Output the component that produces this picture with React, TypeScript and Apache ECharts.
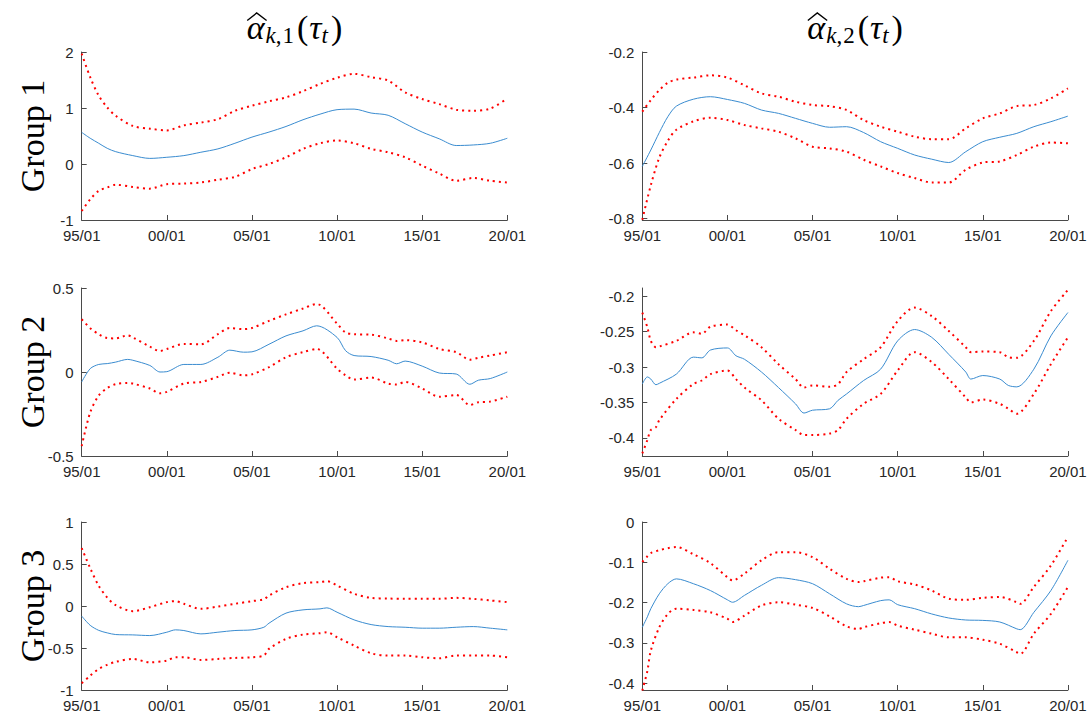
import React, { useEffect, useRef } from "react";
import * as echarts from "echarts";

// ---------- data ----------
const p1Years = [1995, 1995.5, 1996, 1996.5, 1997, 1998, 1999, 2000, 2001, 2002, 2003, 2004, 2005, 2006, 2007, 2008, 2009, 2010, 2011, 2012, 2013, 2014, 2015, 2016, 2017, 2018, 2019, 2020];
const p1Mid = [0.565, 0.46, 0.37, 0.28, 0.22, 0.15, 0.1, 0.12, 0.15, 0.21, 0.27, 0.37, 0.48, 0.57, 0.67, 0.79, 0.89, 0.97, 0.98, 0.91, 0.87, 0.72, 0.57, 0.45, 0.33, 0.34, 0.37, 0.46];
const p1Upper = [1.97, 1.55, 1.22, 1.01, 0.86, 0.68, 0.63, 0.6, 0.69, 0.74, 0.8, 0.95, 1.04, 1.12, 1.19, 1.3, 1.43, 1.54, 1.61, 1.55, 1.49, 1.28, 1.16, 1.07, 0.97, 0.95, 0.99, 1.17];
const p1Lower = [-0.84, -0.63, -0.48, -0.42, -0.37, -0.41, -0.44, -0.36, -0.35, -0.33, -0.28, -0.23, -0.09, 0.0, 0.12, 0.27, 0.37, 0.42, 0.37, 0.27, 0.21, 0.12, -0.03, -0.17, -0.3, -0.25, -0.3, -0.33];

const p2Years = [1995, 1995.5, 1996, 1996.5, 1997, 1998, 1999, 2000, 2001, 2002, 2003, 2004, 2005, 2006, 2007, 2008, 2009, 2010, 2011, 2012, 2013, 2014, 2015, 2016, 2017, 2018, 2019, 2020];
const p2Mid = [-0.612, -0.553, -0.49, -0.433, -0.395, -0.37, -0.361, -0.371, -0.385, -0.409, -0.421, -0.439, -0.457, -0.471, -0.469, -0.49, -0.523, -0.547, -0.571, -0.586, -0.598, -0.559, -0.523, -0.507, -0.493, -0.469, -0.451, -0.431];
const p2Upper = [-0.415, -0.373, -0.337, -0.311, -0.299, -0.292, -0.284, -0.292, -0.32, -0.349, -0.361, -0.379, -0.391, -0.395, -0.409, -0.445, -0.469, -0.487, -0.505, -0.514, -0.514, -0.475, -0.439, -0.421, -0.395, -0.391, -0.367, -0.331];
const p2Lower = [-0.804, -0.68, -0.58, -0.52, -0.48, -0.45, -0.437, -0.445, -0.463, -0.475, -0.487, -0.511, -0.541, -0.547, -0.559, -0.588, -0.612, -0.636, -0.654, -0.67, -0.67, -0.624, -0.598, -0.594, -0.571, -0.541, -0.526, -0.529];

const p3Years = [1995, 1995.5, 1996, 1996.5, 1997, 1997.7, 1998, 1999, 1999.6, 2000, 2001, 2002, 2003, 2003.7, 2004.5, 2005, 2006, 2007, 2008, 2008.8, 2010, 2010.5, 2011, 2012, 2013, 2013.5, 2014, 2015, 2016, 2017, 2017.8, 2018.3, 2019, 2020];
const p3Mid = [-0.059, 0.02, 0.045, 0.05, 0.059, 0.075, 0.07, 0.039, 0.0, 0.002, 0.045, 0.045, 0.088, 0.13, 0.118, 0.12, 0.165, 0.215, 0.245, 0.275, 0.206, 0.127, 0.098, 0.092, 0.07, 0.049, 0.065, 0.035, -0.006, -0.012, -0.073, -0.049, -0.039, 0.0];
const p3Upper = [0.314, 0.261, 0.225, 0.202, 0.2, 0.218, 0.206, 0.151, 0.125, 0.137, 0.167, 0.165, 0.225, 0.262, 0.255, 0.262, 0.304, 0.343, 0.378, 0.405, 0.288, 0.235, 0.225, 0.222, 0.2, 0.185, 0.19, 0.176, 0.137, 0.118, 0.073, 0.085, 0.098, 0.118];
const p3Lower = [-0.441, -0.24, -0.14, -0.095, -0.072, -0.065, -0.069, -0.098, -0.127, -0.118, -0.069, -0.059, -0.029, -0.004, -0.02, -0.014, 0.029, 0.088, 0.118, 0.137, 0.02, -0.02, -0.045, -0.033, -0.069, -0.075, -0.059, -0.098, -0.147, -0.137, -0.196, -0.18, -0.176, -0.147];

const p4Years = [1995, 1995.3, 1995.5, 1995.8, 1996, 1997, 1998, 1998.5, 1999, 2000, 2000.5, 2001, 2002, 2003, 2004, 2004.5, 2005, 2006, 2006.5, 2007, 2008, 2009, 2010, 2011, 2012, 2013, 2014, 2014.3, 2015, 2016, 2016.5, 2017, 2018, 2019, 2020];
const p4Mid = [-0.324, -0.314, -0.317, -0.325, -0.323, -0.31, -0.286, -0.287, -0.276, -0.273, -0.284, -0.289, -0.307, -0.329, -0.352, -0.365, -0.361, -0.359, -0.347, -0.338, -0.319, -0.303, -0.263, -0.247, -0.258, -0.282, -0.307, -0.317, -0.312, -0.317, -0.326, -0.328, -0.303, -0.256, -0.223];
const p4Upper = [-0.223, -0.244, -0.263, -0.272, -0.271, -0.263, -0.251, -0.253, -0.243, -0.24, -0.248, -0.255, -0.272, -0.296, -0.317, -0.329, -0.326, -0.328, -0.324, -0.307, -0.289, -0.272, -0.235, -0.216, -0.228, -0.249, -0.272, -0.279, -0.278, -0.279, -0.286, -0.287, -0.263, -0.221, -0.191];
const p4Lower = [-0.422, -0.403, -0.389, -0.385, -0.375, -0.345, -0.324, -0.319, -0.31, -0.305, -0.317, -0.329, -0.347, -0.373, -0.389, -0.396, -0.396, -0.394, -0.389, -0.373, -0.352, -0.338, -0.305, -0.279, -0.293, -0.317, -0.343, -0.35, -0.346, -0.352, -0.359, -0.366, -0.338, -0.296, -0.258];

const p5Years = [1995, 1995.5, 1996, 1996.5, 1997, 1998, 1999, 2000, 2000.5, 2001, 2002, 2003, 2004, 2005, 2005.7, 2006, 2007, 2008, 2009, 2009.4, 2010, 2011, 2012, 2013, 2014, 2015, 2016, 2017, 2018, 2019, 2020];
const p5Mid = [-0.12, -0.23, -0.29, -0.32, -0.34, -0.344, -0.352, -0.312, -0.284, -0.292, -0.332, -0.312, -0.292, -0.284, -0.253, -0.205, -0.085, -0.046, -0.034, -0.022, -0.074, -0.165, -0.221, -0.245, -0.253, -0.264, -0.264, -0.253, -0.245, -0.264, -0.284];
const p5Upper = [0.69, 0.45, 0.24, 0.1, 0.01, -0.062, -0.014, 0.046, 0.058, 0.026, -0.034, -0.006, 0.026, 0.058, 0.08, 0.125, 0.223, 0.272, 0.284, 0.296, 0.245, 0.145, 0.097, 0.089, 0.085, 0.085, 0.085, 0.097, 0.085, 0.066, 0.046];
const p5Lower = [-0.92, -0.83, -0.75, -0.7, -0.665, -0.63, -0.67, -0.65, -0.61, -0.61, -0.642, -0.63, -0.618, -0.61, -0.59, -0.511, -0.392, -0.34, -0.324, -0.312, -0.372, -0.471, -0.563, -0.59, -0.59, -0.61, -0.622, -0.59, -0.59, -0.59, -0.61];

const p6Years = [1995, 1995.3, 1995.5, 1996, 1996.5, 1997, 1998, 1999, 2000, 2000.3, 2001, 2002, 2003, 2004, 2005, 2006, 2007, 2007.7, 2008, 2009, 2009.5, 2010, 2011, 2012, 2013, 2014, 2015, 2016, 2017, 2017.2, 2018, 2019, 2020];
const p6Mid = [-0.261, -0.235, -0.215, -0.178, -0.153, -0.141, -0.153, -0.17, -0.193, -0.199, -0.182, -0.157, -0.138, -0.143, -0.153, -0.178, -0.203, -0.21, -0.207, -0.195, -0.193, -0.205, -0.215, -0.228, -0.238, -0.243, -0.244, -0.248, -0.265, -0.267, -0.224, -0.17, -0.095];
const p6Upper = [-0.099, -0.085, -0.077, -0.07, -0.065, -0.062, -0.08, -0.102, -0.137, -0.145, -0.128, -0.095, -0.075, -0.075, -0.087, -0.116, -0.141, -0.149, -0.147, -0.138, -0.137, -0.147, -0.155, -0.17, -0.19, -0.193, -0.188, -0.186, -0.199, -0.203, -0.161, -0.108, -0.037];
const p6Lower = [-0.418, -0.369, -0.319, -0.261, -0.228, -0.215, -0.218, -0.224, -0.24, -0.248, -0.232, -0.207, -0.199, -0.205, -0.213, -0.234, -0.259, -0.265, -0.261, -0.251, -0.248, -0.257, -0.267, -0.277, -0.286, -0.286, -0.292, -0.302, -0.323, -0.327, -0.277, -0.228, -0.161];

const xTicks = [1995, 2000, 2005, 2010, 2015, 2020];
const p1Ticks = [-1, 0, 1, 2];
const p2Ticks = [-0.8, -0.6, -0.4, -0.2];
const p3Ticks = [-0.5, 0, 0.5];
const p4Ticks = [-0.4, -0.35, -0.3, -0.25, -0.2];
const p5Ticks = [-1, -0.5, 0, 0.5, 1];
const p6Ticks = [-0.4, -0.3, -0.2, -0.1, 0];
const yRanges = [
  [-1, 2],
  [-0.805, -0.2],
  [-0.5, 0.5],
  [-0.4257, -0.1883],
  [-1, 1],
  [-0.4166, 0],
];
const groupLabels = ["Group 1", "Group 2", "Group 3"];
const columnIndices = ["1", "2"];

// ---------- layout ----------
const colLeft = [81.7, 642.3];
const colWidth = 425.6;
const rowTop = [52, 288, 522];
const rowHeight = 168;

const panels = [
  { years: p1Years, mid: p1Mid, upper: p1Upper, lower: p1Lower, ticks: p1Ticks },
  { years: p2Years, mid: p2Mid, upper: p2Upper, lower: p2Lower, ticks: p2Ticks },
  { years: p3Years, mid: p3Mid, upper: p3Upper, lower: p3Lower, ticks: p3Ticks },
  { years: p4Years, mid: p4Mid, upper: p4Upper, lower: p4Lower, ticks: p4Ticks },
  { years: p5Years, mid: p5Mid, upper: p5Upper, lower: p5Lower, ticks: p5Ticks },
  { years: p6Years, mid: p6Mid, upper: p6Upper, lower: p6Lower, ticks: p6Ticks },
];

const AXIS_COLOR = "#4a4a4a";
const TEXT_COLOR = "#262626";
const BLUE = "#3a8cd0";
const RED = "#ff0000";
const SERIF = "Liberation Serif";

function titleElements(cx: number, idx: string): any[] {
  const M = 34;
  const S = 23;
  const B = 38.5; // baseline
  const SB = B + 5; // subscript baseline
  const parts = [
    { t: "α", size: M, italic: true, sub: false, gap: 0 },
    { t: "k", size: S, italic: true, sub: true, gap: 1 },
    { t: ",", size: S, italic: false, sub: true, gap: 0 },
    { t: idx, size: S, italic: false, sub: true, gap: 1 },
    { t: "(", size: M, italic: false, sub: false, gap: 3 },
    { t: "τ", size: M, italic: true, sub: false, gap: 1 },
    { t: "t", size: S, italic: true, sub: true, gap: 0 },
    { t: ")", size: M, italic: false, sub: false, gap: 3 },
  ];
  const ctx = document.createElement("canvas").getContext("2d") as CanvasRenderingContext2D;
  const widths = parts.map((p) => {
    ctx.font = `${p.italic ? "italic " : ""}${p.size}px "${SERIF}"`;
    return ctx.measureText(p.t).width;
  });
  const total = parts.reduce((s, p, i) => s + p.gap + widths[i], 0);
  let x = cx - total / 2;
  const els: any[] = [];
  let alphaL = 0;
  let alphaR = 0;
  parts.forEach((p, i) => {
    x += p.gap;
    const base = p.sub ? SB : B;
    if (i === 0) {
      alphaL = x;
      alphaR = x + widths[i];
    }
    els.push({
      type: "text",
      x,
      y: base - 0.3375 * p.size,
      style: {
        text: p.t,
        fontFamily: SERIF,
        fontStyle: p.italic ? "italic" : "normal",
        fontSize: p.size,
        fill: "#000",
        align: "left",
        verticalAlign: "middle",
      },
    });
    x += widths[i];
  });
  els.push({
    type: "polyline",
    shape: {
      points: [
        [alphaL + 0.5, 20.5],
        [(alphaL + alphaR) / 2 + 1, 13],
        [alphaR + 2, 20.5],
      ],
    },
    style: { stroke: "#000", lineWidth: 1.4, fill: null },
  });
  return els;
}

function buildOption() {
  const grid: any[] = [];
  const xAxis: any[] = [];
  const yAxis: any[] = [];
  const series: any[] = [];
  panels.forEach((p, i) => {
    const col = i % 2;
    const row = Math.floor(i / 2);
    grid.push({
      left: colLeft[col],
      top: rowTop[row],
      width: colWidth,
      height: rowHeight,
      containLabel: false,
    });
    xAxis.push({
      type: "value",
      gridIndex: i,
      min: 1995,
      max: 2020,
      axisLine: { show: true, onZero: false, lineStyle: { color: AXIS_COLOR, width: 1 } },
      axisTick: { show: true, inside: true, length: 5, customValues: xTicks, lineStyle: { color: AXIS_COLOR } },
      axisLabel: {
        customValues: xTicks,
        color: TEXT_COLOR,
        fontFamily: "Liberation Sans",
        fontSize: 15,
        margin: 8,
        formatter: (v: number) => {
          const y = Math.round(v) % 100;
          return (y < 10 ? "0" : "") + y + "/01";
        },
      },
      splitLine: { show: false },
    });
    yAxis.push({
      type: "value",
      gridIndex: i,
      min: yRanges[i][0],
      max: yRanges[i][1],
      axisLine: { show: true, onZero: false, lineStyle: { color: AXIS_COLOR, width: 1 } },
      axisTick: { show: true, inside: true, length: 5, customValues: p.ticks, lineStyle: { color: AXIS_COLOR } },
      axisLabel: {
        customValues: p.ticks,
        color: TEXT_COLOR,
        fontFamily: "Liberation Sans",
        fontSize: 15,
        margin: 8,
        formatter: (v: number) => String(+v.toFixed(3)),
      },
      splitLine: { show: false },
    });
    const mk = (arr: number[], color: string, width: number, type: any) => ({
      type: "line",
      xAxisIndex: i,
      yAxisIndex: i,
      data: p.years.map((yr, k) => [yr, arr[k]]),
      showSymbol: false,
      symbol: "none",
      smooth: 0.3,
      clip: false,
      silent: true,
      lineStyle: { color, width, type, cap: "butt" },
    });
    series.push(mk(p.mid, BLUE, 1, "solid"));
    series.push(mk(p.upper, RED, 2, [2, 4]));
    series.push(mk(p.lower, RED, 2, [2, 4]));
  });

  const titles = columnIndices.flatMap((n, c) => titleElements(colLeft[c] + colWidth / 2, n));
  const groups = groupLabels.map((g, r) => ({
    type: "text",
    x: 32,
    y: rowTop[r] + rowHeight / 2,
    rotation: Math.PI / 2,
    style: {
      text: g,
      fontFamily: SERIF,
      fontSize: 34,
      fill: "#000",
      align: "center",
      verticalAlign: "middle",
    },
  }));

  return {
    animation: false,
    backgroundColor: "#ffffff",
    grid,
    xAxis,
    yAxis,
    series,
    graphic: [...titles, ...groups],
  };
}

export default function App() {
  const ref = useRef<HTMLDivElement>(null);
  useEffect(() => {
    document.body.style.margin = "0";
    if (!ref.current) return;
    const chart = echarts.init(ref.current, undefined, { renderer: "svg" });
    chart.setOption(buildOption() as any);
    return () => chart.dispose();
  }, []);
  return (
    <div
      ref={ref}
      style={{ position: "absolute", left: 0, top: 0, width: 1090, height: 720, background: "#fff" }}
    />
  );
}
